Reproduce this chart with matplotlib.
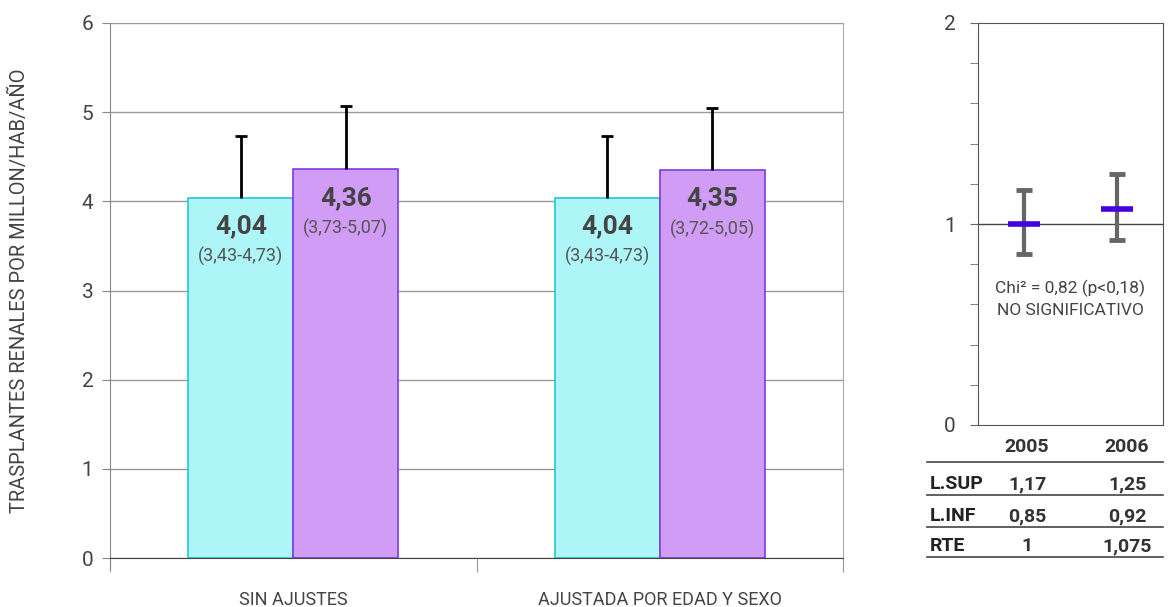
import matplotlib.pyplot as plt
from matplotlib.lines import Line2D

plt.rcParams['font.family'] = ['Roboto', 'DejaVu Sans']
plt.rcParams['text.color'] = '#444444'
plt.rcParams['xtick.color'] = '#888888'
plt.rcParams['ytick.color'] = '#888888'
plt.rcParams['xtick.labelcolor'] = '#444444'
plt.rcParams['ytick.labelcolor'] = '#444444'

# ---- data ----
categorias = ["SIN AJUSTES", "AJUSTADA POR EDAD Y SEXO"]
tasa_2005 = [4.04, 4.04]
tasa_2006 = [4.36, 4.35]
ic_sup_2005 = [4.73, 4.73]
ic_sup_2006 = [5.07, 5.05]
etq_2005 = ["(3,43-4,73)", "(3,43-4,73)"]
etq_2006 = ["(3,73-5,07)", "(3,72-5,05)"]

anios = ["2005", "2006"]
rte = [1.0, 1.075]
l_sup = [1.17, 1.25]
l_inf = [0.85, 0.92]
filas = ["L.SUP", "L.INF", "RTE"]
tabla = [["1,17", "1,25"], ["0,85", "0,92"], ["1", "1,075"]]


def coma(v):
    return f"{v:.2f}".replace(".", ",")


fig = plt.figure(figsize=(11.68, 6.07), dpi=100)

# ================= main bar chart =================
ax = fig.add_axes([110 / 1168, 1 - 558 / 607, 733 / 1168, 535 / 607])
centros = [0.5, 1.5]
w = 0.286
x05 = [c - w / 2 for c in centros]
x06 = [c + w / 2 for c in centros]

ax.bar(x05, tasa_2005, width=w, color="#aef5f7", edgecolor="#22c8cc", linewidth=1.2, zorder=3)
ax.bar(x06, tasa_2006, width=w, color="#d09cf6", edgecolor="#7a3be0", linewidth=1.2, zorder=3)

# only the upper whisker (bar top -> upper CI)
for xs, ts, sups in [(x05, tasa_2005, ic_sup_2005), (x06, tasa_2006, ic_sup_2006)]:
    eb = ax.errorbar(xs, ts, yerr=[[0] * len(ts), [s - t for s, t in zip(sups, ts)]],
                     fmt="none", ecolor="black", elinewidth=2, capsize=4.3, capthick=2, zorder=4)
    eb[1][0].set_visible(False)

for xs, ts, etqs in [(x05, tasa_2005, etq_2005), (x06, tasa_2006, etq_2006)]:
    for x, t, e in zip(xs, ts, etqs):
        ax.text(x, t - 0.32, coma(t), ha="center", va="center", fontsize=19,
                fontweight="bold", color="#444444", zorder=5)
        ax.text(x, t - 0.66, e, ha="center", va="center", fontsize=13,
                color="#555555", zorder=5)

ax.set_xlim(0, 2)
ax.set_ylim(0, 6)
ax.set_yticks(range(0, 7))
ax.tick_params(axis="y", direction="out", length=6, labelsize=15, pad=6)
ax.yaxis.grid(True, color="#999999", linewidth=1, zorder=0)
ax.set_xticks([0, 1, 2])
ax.set_xticklabels([])
ax.tick_params(axis="x", which="major", direction="out", length=10, color="#999999")
ax.set_xticks(centros, minor=True)
ax.set_xticklabels(categorias, minor=True, fontsize=13)
ax.tick_params(axis="x", which="minor", length=0, pad=24)
ax.spines["top"].set_visible(False)
ax.spines["left"].set_color("#888888")
ax.spines["right"].set_color("#aaaaaa")
ax.spines["bottom"].set_color("#444444")
ax.spines["bottom"].set_zorder(6)
ax.spines["left"].set_bounds(-0.12, 6)
ax.set_ylabel("TRASPLANTES RENALES POR MILLON/HAB/AÑO", fontsize=14.5, color="#444444")
ax.yaxis.set_label_coords(-0.111, 0.5)

# ================= RTE panel =================
ax2 = fig.add_axes([978 / 1168, 1 - 425 / 607, 185 / 1168, 402 / 607])
xp = [1, 2]
ax2.axhline(1, color="#444444", linewidth=1, zorder=1)
ax2.errorbar(xp, rte, yerr=[[r - i for r, i in zip(rte, l_inf)], [s - r for s, r in zip(l_sup, rte)]],
             fmt="none", ecolor="#666666", elinewidth=3, capsize=6, capthick=3.5, zorder=2)
ax2.scatter(xp, rte, marker="_", s=500, linewidths=4, color="#4400dd", zorder=3)
ax2.text(1.5, 0.68, "Chi² = 0,82 (p<0,18)", ha="center", va="center", fontsize=12.5, color="#444444")
ax2.text(1.5, 0.57, "NO SIGNIFICATIVO", ha="center", va="center", fontsize=12.5, color="#444444")
ax2.set_xlim(0.5, 2.5)
ax2.set_ylim(0, 2)
ax2.set_xticks([])
ax2.set_yticks([0, 1, 2])
ax2.set_yticks([0.2, 0.4, 0.6, 0.8, 1.2, 1.4, 1.6, 1.8], minor=True)
ax2.tick_params(axis="y", which="both", direction="out", length=6, color="#666666", labelsize=15, pad=10)
for s in ax2.spines.values():
    s.set_color("#555555")

# ---- table under the panel ----
col_x = [1027 / 1168, 1127 / 1168]
fila_x = 930 / 1168
x0, x1 = 927 / 1168, 1163 / 1168
for cx, a in zip(col_x, anios):
    fig.text(cx, 1 - 447 / 607, a, ha="center", va="center", fontsize=14, fontweight="bold", color="#333333")
fila_y = [484, 516, 546]
linea_y = [462, 495, 527, 557]
for fy, nombre, vals in zip(fila_y, filas, tabla):
    fig.text(fila_x, 1 - fy / 607, nombre, ha="left", va="center", fontsize=14, fontweight="bold", color="#222222")
    for cx, v in zip(col_x, vals):
        fig.text(cx, 1 - fy / 607, v, ha="center", va="center", fontsize=14, fontweight="bold", color="#333333")
for ly in linea_y:
    fig.add_artist(Line2D([x0, x1], [1 - ly / 607, 1 - ly / 607], color="#444444", linewidth=1.2))

fig.savefig("out.png", dpi=100)
